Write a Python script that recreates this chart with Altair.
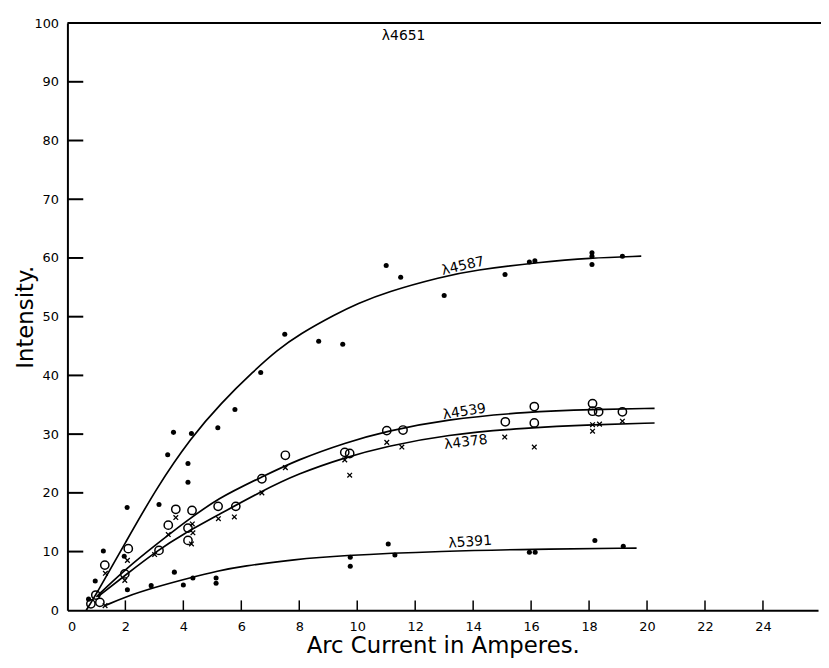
import altair as alt
import pandas as pd

# ---------------- data ----------------
# lambda 4587 (filled dots)
d4587_x = [0.73, 0.96, 1.24, 1.96, 2.06, 3.16, 3.46, 3.66, 4.16, 4.16, 4.28, 5.19, 5.78,
           6.67, 7.50, 8.67, 9.50, 11.0, 11.5, 13.0, 15.1, 15.94, 16.13, 18.1, 18.1, 18.1, 19.15]
d4587_y = [1.9, 5.0, 10.1, 9.2, 17.5, 18.0, 26.5, 30.3, 25.0, 21.8, 30.1, 31.1, 34.2,
           40.5, 47.0, 45.8, 45.3, 58.7, 56.7, 53.6, 57.2, 59.3, 59.5, 60.9, 60.3, 58.9, 60.3]

# lambda 4539 (open circles)
c4539_x = [0.81, 0.98, 1.12, 1.29, 1.98, 2.10, 3.16, 3.48, 3.74, 4.16, 4.16, 4.30, 5.20, 5.81,
           6.71, 7.52, 9.57, 9.74, 11.02, 11.58, 15.11, 16.11, 16.11, 18.12, 18.12, 18.33, 19.15]
c4539_y = [1.1, 2.6, 1.35, 7.7, 6.2, 10.5, 10.2, 14.5, 17.2, 14.0, 11.9, 17.0, 17.7, 17.7,
           22.4, 26.4, 26.9, 26.7, 30.6, 30.7, 32.1, 34.7, 31.9, 35.2, 33.9, 33.8, 33.8]

# lambda 4378 (crosses)
x4378_x = [1.30, 1.31, 1.98, 2.07, 3.01, 3.48, 3.74, 4.28, 4.31, 4.33, 5.21, 5.76, 6.71, 7.52,
           9.57, 9.74, 11.02, 11.54, 15.09, 16.11, 18.12, 18.12, 18.36, 19.15]
x4378_y = [0.8, 6.3, 5.1, 8.5, 9.5, 12.9, 15.8, 11.3, 14.7, 13.2, 15.6, 15.9, 20.0, 24.3,
           25.6, 23.0, 28.6, 27.8, 29.5, 27.8, 31.6, 30.5, 31.7, 32.2]

# lambda 5391 (filled dots)
d5391_x = [2.07, 2.89, 3.69, 4.00, 4.33, 5.13, 5.13, 9.76, 9.76, 11.07, 11.30, 15.94, 16.14, 18.20, 19.18]
d5391_y = [3.5, 4.2, 6.5, 4.3, 5.5, 5.5, 4.6, 9.05, 7.5, 11.3, 9.4, 9.9, 9.9, 11.9, 10.9]

# smooth curves drawn by hand on the original
k4587_x = [0.65, 1.0, 2.0, 3.08, 4.28, 5.3, 6.44, 7.24, 8.0, 9.28, 10.0, 11.0, 12.92, 14.0, 16.34, 18.0, 19.8]
k4587_y = [0.0, 2.8, 11.5, 20.9, 29.5, 35.3, 40.8, 44.3, 47.0, 50.5, 52.2, 54.2, 56.8, 57.9, 59.3, 60.0, 60.3]

k4539_x = [1.0, 2.0, 3.14, 4.0, 5.19, 6.71, 7.92, 9.62, 11.0, 13.04, 15.87, 18.16, 20.26]
k4539_y = [2.3, 7.0, 11.5, 14.8, 19.1, 22.7, 25.6, 28.6, 30.5, 32.5, 33.8, 34.2, 34.4]

k4378_x = [1.05, 2.0, 3.14, 4.0, 5.19, 6.71, 7.92, 9.62, 11.0, 13.04, 15.87, 18.16, 20.26]
k4378_y = [2.3, 6.0, 10.3, 13.0, 16.2, 20.3, 23.2, 26.1, 27.9, 29.9, 31.1, 31.6, 31.9]

k5391_x = [1.3, 2.0, 3.0, 4.28, 5.19, 6.0, 7.92, 9.28, 13.04, 16.0, 19.64]
k5391_y = [0.8, 2.3, 3.9, 5.6, 6.7, 7.5, 8.7, 9.3, 10.1, 10.4, 10.6]

# curve labels
label_text = ["λ4651", "λ4587", "λ4539", "λ4378", "λ5391"]
label_x = [11.6, 13.65, 13.7, 13.75, 13.9]
label_y = [97.8, 58.6, 33.8, 28.6, 11.6]
label_angle = [0, 347, 351, 353, 356]

x_ticks = [2, 4, 6, 8, 10, 12, 14, 16, 18, 20, 22, 24]
x_labels = [0, 2, 4, 6, 8, 10, 12, 14, 16, 18, 20, 22, 24]
y_ticks = [10, 20, 30, 40, 50, 60, 70, 80, 90]
y_labels = [0, 10, 20, 30, 40, 50, 60, 70, 80, 90, 100]
top_value = [100]

# ---------------- chart ----------------
W, H = 758, 593
FONT = "DejaVu Sans"

x_scale = alt.Scale(domain=[0, 25.9], nice=False, zero=False)
y_scale = alt.Scale(domain=[0, 100], nice=False)
x_axis = alt.Axis(values=x_labels, ticks=False, grid=False, domainColor="black", domainWidth=2,
                  labelFontSize=13, labelColor="black", labelPadding=10, labelFont=FONT,
                  title="Arc Current in Amperes.", titleFontSize=23, titleFontWeight="normal",
                  titleFont=FONT, titleColor="black", titlePadding=2)
y_axis = alt.Axis(values=y_labels, ticks=False, grid=False, domainColor="black", domainWidth=2,
                  labelFontSize=13, labelColor="black", labelPadding=9, labelFont=FONT,
                  title="Intensity.", titleFontSize=23, titleFontWeight="normal",
                  titleFont=FONT, titleColor="black", titleX=-42, titleY=H / 2,
                  titleBaseline="middle", titleAlign="center", titleAngle=270)


def X(f):
    return alt.X(f, type="quantitative", scale=x_scale, axis=x_axis)


def Y(f):
    return alt.Y(f, type="quantitative", scale=y_scale, axis=y_axis)


def df(xs, ys):
    return pd.DataFrame({"x": xs, "y": ys})


layers = []

# curves
for kx, ky in [(k4587_x, k4587_y), (k4539_x, k4539_y), (k4378_x, k4378_y), (k5391_x, k5391_y)]:
    layers.append(alt.Chart(df(kx, ky)).mark_line(color="black", strokeWidth=1.7,
                                                  interpolate="basis").encode(x=X("x"), y=Y("y")))

# dots
for dx, dy in [(d4587_x, d4587_y), (d5391_x, d5391_y)]:
    layers.append(alt.Chart(df(dx, dy)).mark_circle(color="black", size=26, opacity=1)
                  .encode(x=X("x"), y=Y("y")))

# open circles
layers.append(alt.Chart(df(c4539_x, c4539_y)).mark_point(shape="circle", filled=False, color="black",
                                                         size=70, strokeWidth=1.5, opacity=1)
              .encode(x=X("x"), y=Y("y")))

# crosses
layers.append(alt.Chart(df(x4378_x, x4378_y)).mark_point(shape="M-1,-1L1,1M-1,1L1,-1", filled=False,
                                                         color="black", size=22, strokeWidth=1.3,
                                                         opacity=1)
              .encode(x=X("x"), y=Y("y")))

# inward ticks
layers.append(alt.Chart(pd.DataFrame({"y": y_ticks})).mark_rule(color="black", strokeWidth=2)
              .encode(y=Y("y"), x=alt.value(0), x2=alt.value(16)))
layers.append(alt.Chart(pd.DataFrame({"x": x_ticks})).mark_rule(color="black", strokeWidth=1.5)
              .encode(x=X("x"), y=alt.value(H), y2=alt.value(H - 10)))
# top frame line at 100
layers.append(alt.Chart(pd.DataFrame({"y": top_value})).mark_rule(color="black", strokeWidth=2)
              .encode(y=Y("y"), x=alt.value(0), x2=alt.value(W + 3)))

# labels
for t, lx, ly, a in zip(label_text, label_x, label_y, label_angle):
    layers.append(alt.Chart(pd.DataFrame({"x": [lx], "y": [ly], "t": [t]}))
                  .mark_text(font=FONT, fontSize=14, color="black", angle=a, align="center",
                             baseline="middle")
                  .encode(x=X("x"), y=Y("y"), text="t:N"))

chart = alt.layer(*layers).properties(
    width=W, height=H,
    autosize=alt.AutoSizeParams(type="none"),
    padding={"left": 60, "top": 12, "right": 3, "bottom": 50},
    background="white",
).configure_view(stroke=None)

chart.save("out.html", embed_options={"renderer": "svg", "actions": False})
